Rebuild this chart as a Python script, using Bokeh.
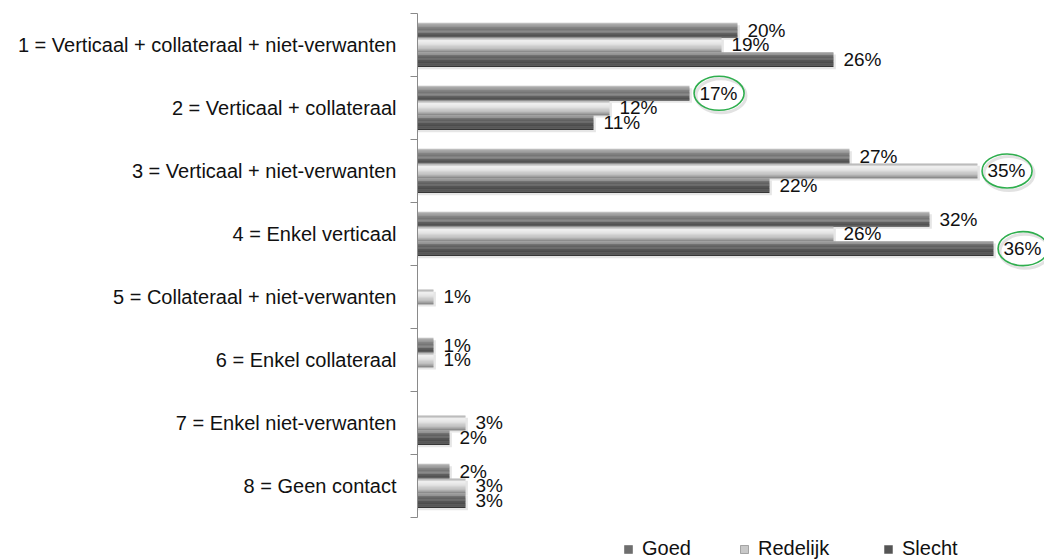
from bokeh.plotting import figure
from bokeh.models import Range1d, FixedTicker, LinearAxis, Legend, LegendItem
from bokeh.core.properties import value
from bokeh.embed import file_html
from bokeh.resources import INLINE

categories = [
    "1 = Verticaal + collateraal + niet-verwanten",
    "2 = Verticaal + collateraal",
    "3 = Verticaal + niet-verwanten",
    "4 = Enkel verticaal",
    "5 = Collateraal + niet-verwanten",
    "6 = Enkel collateraal",
    "7 = Enkel niet-verwanten",
    "8 = Geen contact",
]
series_names = ["Goed", "Redelijk", "Slecht"]
goed = [20, 17, 27, 32, 0, 1, 0, 2]
redelijk = [19, 12, 35, 26, 1, 1, 3, 3]
slecht = [26, 11, 22, 36, 0, 0, 2, 3]
# highlighted values: (category index, series name)
highlighted = [(1, "Goed"), (2, "Redelijk"), (3, "Slecht")]

values = {"Goed": goed, "Redelijk": redelijk, "Slecht": slecht}

# style: gradient stops, top to bottom
stops = {
    "Goed": ["#bdbdbd", "#8e8e8e", "#7a7a7a", "#6c6c6c", "#5c5c5c", "#4a4a4a"],
    "Redelijk": ["#b4b4b4", "#f4f4f4", "#e4e4e4", "#d0d0d0", "#b8b8b8", "#8c8c8c"],
    "Slecht": ["#9a9a9a", "#6e6e6e", "#5e5e5e", "#545454", "#484848", "#363636"],
}
legend_color = {"Goed": "#6e6e6e", "Redelijk": "#c8c8c8", "Slecht": "#555555"}
legend_x = {"Goed": 206, "Redelijk": 322, "Slecht": 466}
FONT = "Liberation Sans"


def hex2rgb(h):
    return tuple(int(h[i:i + 2], 16) for i in (1, 3, 5))


def shades(stop_list, count):
    out = []
    m = len(stop_list) - 1
    for k in range(count):
        t = k / (count - 1) * m
        i = min(int(t), m - 1)
        f = t - i
        a, b = hex2rgb(stop_list[i]), hex2rgb(stop_list[i + 1])
        out.append("#%02x%02x%02x" % tuple(round(a[j] + (b[j] - a[j]) * f) for j in range(3)))
    return out


n = len(categories)
bar_h = 0.233
offsets = {"Goed": -bar_h, "Redelijk": 0.0, "Slecht": bar_h}

p = figure(
    width=1044, height=560,
    x_range=Range1d(0, 39.19), y_range=Range1d(8.683, -0.206),
    x_axis_location=None, y_axis_location=None,
    min_border_left=417, min_border_right=0, min_border_top=0, min_border_bottom=0,
    output_backend="svg", toolbar_location=None,
)
p.outline_line_color = None
for g in p.grid:
    g.visible = False

centers = [i + 0.5 for i in range(n)]
axis = LinearAxis(
    ticker=FixedTicker(ticks=centers, minor_ticks=[float(i) for i in range(n + 1)]),
    bounds=(0, n),
    major_label_overrides={c: lab for c, lab in zip(centers, categories)},
)
axis.axis_line_color = "#8a8a8a"
axis.major_tick_line_color = None
axis.major_tick_out = 0
axis.major_tick_in = 0
axis.minor_tick_line_color = "#8a8a8a"
axis.minor_tick_out = 7
axis.minor_tick_in = 0
axis.major_label_standoff = 14
axis.major_label_text_font = FONT
axis.major_label_text_font_size = "20px"
axis.major_label_text_color = "#111111"
p.add_layout(axis, "left")

legend_renderers = {}
nstrip = 12
sh = bar_h / nstrip
for s in series_names:
    vals = values[s]
    ys = [c + offsets[s] for c in centers]
    p.hbar(y=[y + 0.035 for y in ys], left=0, right=[v + 0.15 if v > 0 else 0 for v in vals],
           height=bar_h, color="#e6e6e6", line_color=None)
for s in series_names:
    vals = values[s]
    ys = [c + offsets[s] for c in centers]
    for k, col in enumerate(shades(stops[s], nstrip)):
        yk = [y - bar_h / 2 + (k + 0.5) * sh for y in ys]
        p.hbar(y=yk, left=0, right=vals, height=sh * 1.15, fill_color=col, line_color=None)
    r = p.hbar(y=ys, left=0, right=[0] * n, height=bar_h, fill_color=legend_color[s],
               line_color="#444444", line_alpha=0.4)
    legend_renderers[s] = r
    lx = [v for v in vals if v > 0]
    ly = [y for y, v in zip(ys, vals) if v > 0]
    p.text(x=lx, y=ly, text=[f"{v}%" for v in lx], x_offset=10,
           text_baseline="middle", text_align="left",
           text_font=value(FONT), text_font_size="19px", text_color="#111111")

hx = [values[s][i] + 1.85 for i, s in highlighted]
hy = [centers[i] + offsets[s] for i, s in highlighted]
p.ellipse(x=[x + 0.12 for x in hx], y=[y + 0.04 for y in hy], width=50, height=34,
          width_units="screen", height_units="screen",
          fill_color=None, line_color="#cfcfcf", line_width=3, line_alpha=0.6)
p.ellipse(x=hx, y=hy, width=50, height=34, width_units="screen", height_units="screen",
          fill_color=None, line_color="#2fae4e", line_width=1.6)

for s in series_names:
    legend = Legend(
        items=[LegendItem(label=s, renderers=[legend_renderers[s]])],
        orientation="horizontal", location=(legend_x[s], 0),
        padding=0, margin=0, spacing=0,
        glyph_width=10, glyph_height=10, label_standoff=9,
        label_text_font=FONT, label_text_font_size="20px", label_text_color="#111111",
        border_line_color=None, background_fill_alpha=0,
    )
    p.add_layout(legend)

open("out.html", "w").write(file_html(p, INLINE))
